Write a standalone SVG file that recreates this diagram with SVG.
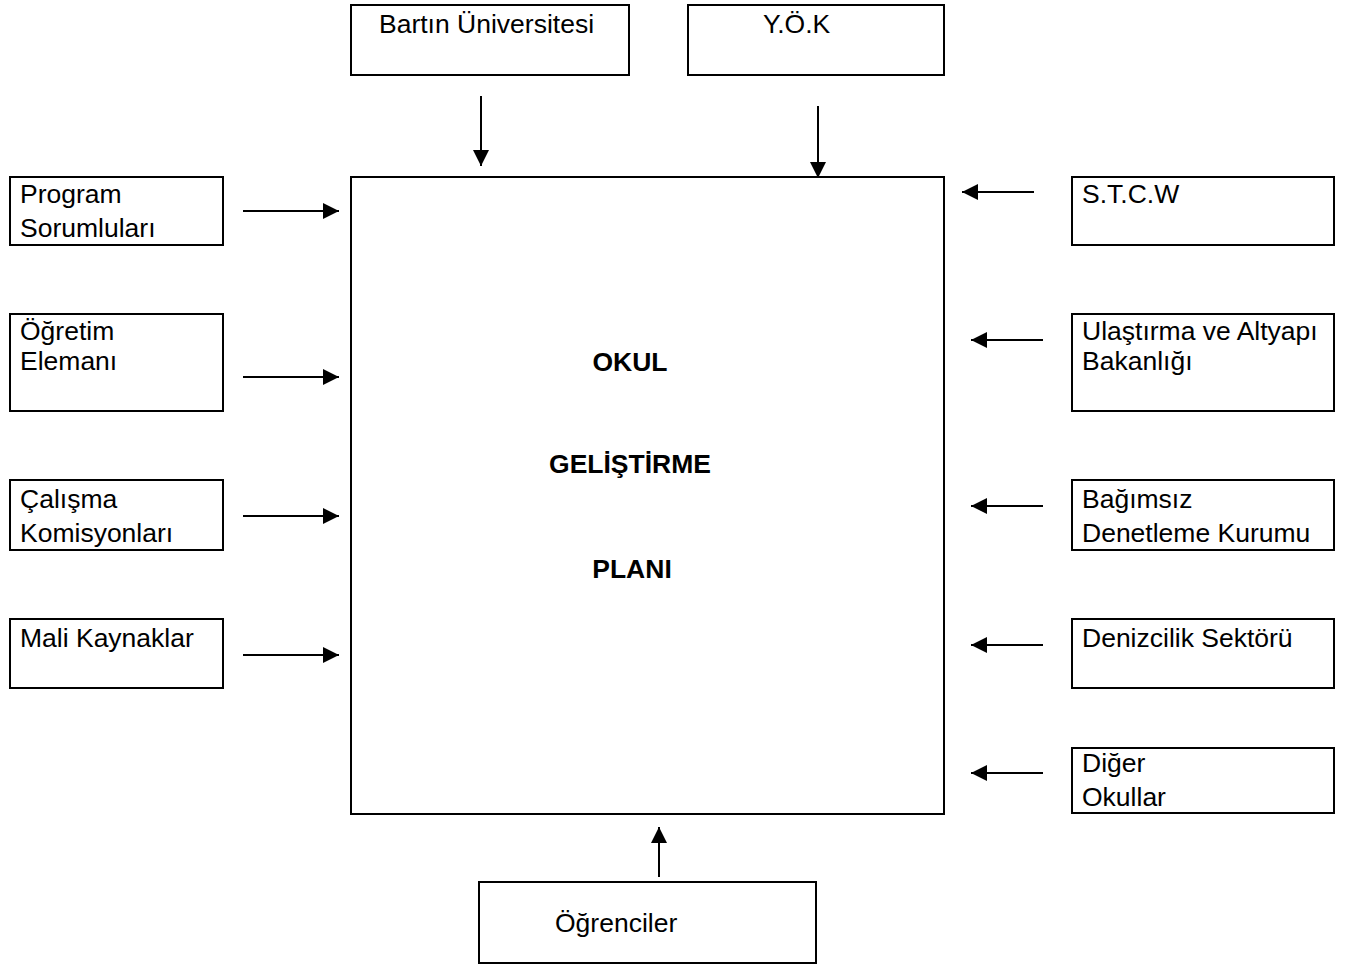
<svg xmlns="http://www.w3.org/2000/svg" width="1348" height="964" viewBox="0 0 1348 964">
<defs>
<marker id="ah" viewBox="0 0 10 10" refX="10" refY="5" markerWidth="16" markerHeight="16" markerUnits="userSpaceOnUse" orient="auto">
<path d="M0,0 L10,5 L0,10 z" fill="#000"/>
</marker>
<style>
.box{fill:#fff;stroke:#000;stroke-width:2}
.t{font-family:"Liberation Sans",Arial,sans-serif;font-size:26.5px;fill:#000}
.b{font-family:"Liberation Sans",Arial,sans-serif;font-size:26.5px;font-weight:bold;fill:#000;text-anchor:middle}
.c{stroke:#000;stroke-width:2;fill:none;marker-end:url(#ah)}
</style>
</defs>
<rect width="1348" height="964" fill="#fff"/>
<g id="main">
<rect class="box" x="351" y="177" width="593" height="637"/>
<text class="b" x="630" y="371">OKUL</text>
<text class="b" x="630" y="473">GELİŞTİRME</text>
<text class="b" x="632" y="578">PLANI</text>
</g>
<g id="bartin"><rect class="box" x="351" y="5" width="278" height="70"/><text class="t" x="379" y="33">Bartın Üniversitesi</text></g>
<g id="yok"><rect class="box" x="688" y="5" width="256" height="70"/><text class="t" x="763" y="33">Y.Ö.K</text></g>
<g id="program"><rect class="box" x="10" y="177" width="213" height="68"/><text class="t" x="20" y="203">Program</text><text class="t" x="20" y="237">Sorumluları</text></g>
<g id="ogretim"><rect class="box" x="10" y="314" width="213" height="97"/><text class="t" x="20" y="340">Öğretim</text><text class="t" x="20" y="370">Elemanı</text></g>
<g id="calisma"><rect class="box" x="10" y="480" width="213" height="70"/><text class="t" x="20" y="508">Çalışma</text><text class="t" x="20" y="542">Komisyonları</text></g>
<g id="mali"><rect class="box" x="10" y="619" width="213" height="69"/><text class="t" x="20" y="647">Mali Kaynaklar</text></g>
<g id="stcw"><rect class="box" x="1072" y="177" width="262" height="68"/><text class="t" x="1082" y="203">S.T.C.W</text></g>
<g id="ulastirma"><rect class="box" x="1072" y="314" width="262" height="97"/><text class="t" x="1082" y="340">Ulaştırma ve Altyapı</text><text class="t" x="1082" y="370">Bakanlığı</text></g>
<g id="bagimsiz"><rect class="box" x="1072" y="480" width="262" height="70"/><text class="t" x="1082" y="508">Bağımsız</text><text class="t" x="1082" y="542">Denetleme Kurumu</text></g>
<g id="denizcilik"><rect class="box" x="1072" y="619" width="262" height="69"/><text class="t" x="1082" y="647">Denizcilik Sektörü</text></g>
<g id="diger"><rect class="box" x="1072" y="748" width="262" height="65"/><text class="t" x="1082" y="772">Diğer</text><text class="t" x="1082" y="806">Okullar</text></g>
<g id="ogrenciler"><rect class="box" x="479" y="882" width="337" height="81"/><text class="t" x="555" y="932">Öğrenciler</text></g>
<g id="connectors">
<line class="c" x1="481" y1="96" x2="481" y2="166"/>
<line class="c" x1="818" y1="106" x2="818" y2="178"/>
<line class="c" x1="243" y1="211" x2="339" y2="211"/>
<line class="c" x1="243" y1="377" x2="339" y2="377"/>
<line class="c" x1="243" y1="516" x2="339" y2="516"/>
<line class="c" x1="243" y1="655" x2="339" y2="655"/>
<line class="c" x1="1034" y1="192" x2="962" y2="192"/>
<line class="c" x1="1043" y1="340" x2="971" y2="340"/>
<line class="c" x1="1043" y1="506" x2="971" y2="506"/>
<line class="c" x1="1043" y1="645" x2="971" y2="645"/>
<line class="c" x1="1043" y1="773" x2="971" y2="773"/>
<line class="c" x1="659" y1="877" x2="659" y2="827"/>
</g>
</svg>
